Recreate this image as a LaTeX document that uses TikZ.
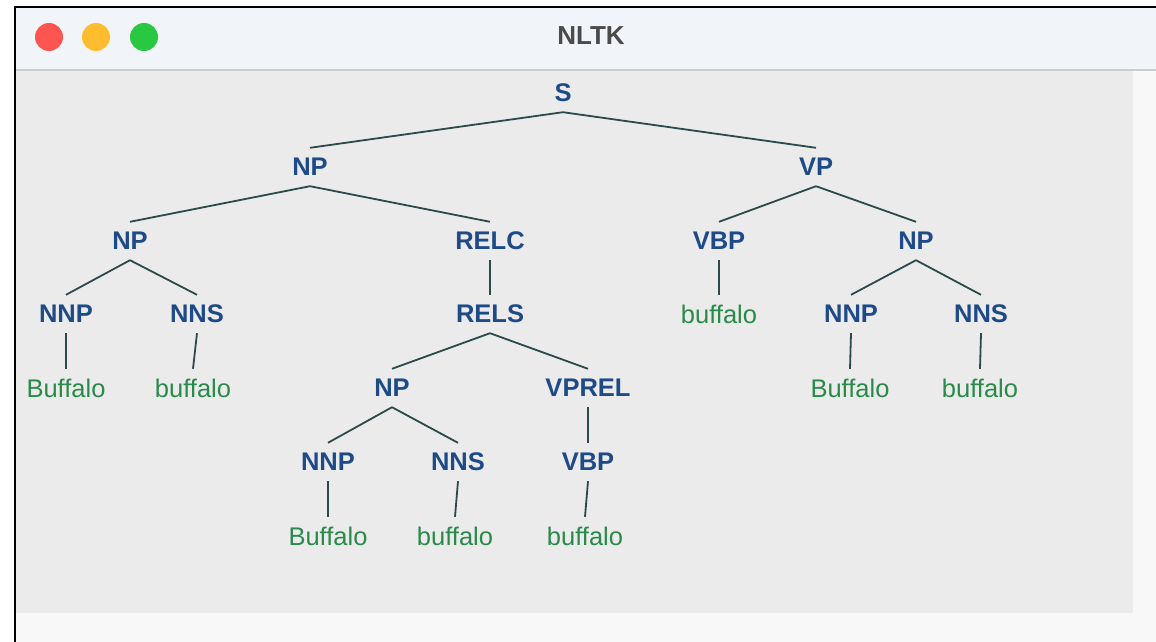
\documentclass[tikz,border=0pt]{standalone}
\usepackage{fontspec}
\setmainfont{Liberation Sans}
\definecolor{catblue}{HTML}{1E4A88}
\definecolor{wordgreen}{HTML}{2A8A4A}
\definecolor{edgecol}{HTML}{2C4A4A}
\definecolor{titlebg}{HTML}{F1F4F8}
\definecolor{contentbg}{HTML}{EBEBEB}
\definecolor{stripbg}{HTML}{F8F8F8}
\definecolor{sepgray}{HTML}{CDCDCD}
\definecolor{lred}{HTML}{FF5550}
\definecolor{lyellow}{HTML}{FEBC2E}
\definecolor{lgreen}{HTML}{28C840}
\definecolor{titlegray}{HTML}{4B4B4B}
\begin{document}
\begin{tikzpicture}[x=1pt,y=-1pt,
  cat/.style={font=\fontsize{25.5}{27}\selectfont\bfseries, text=catblue, inner sep=0pt, minimum height=38pt, anchor=center},
  word/.style={font=\fontsize{25.5}{27}\selectfont, text=wordgreen, inner sep=0pt, minimum height=38pt, anchor=center},
  edge/.style={draw=edgecol, line width=1.8pt},
  light/.style={circle, minimum size=28pt, inner sep=0pt}]
\useasboundingbox (0,0) rectangle (1156,642);
\fill[white] (0,0) rectangle (1156,642);
% window
\fill[titlebg] (15,7) rectangle (1156,70);
\fill[stripbg] (15,70) rectangle (1156,642);
\fill[contentbg] (15,71) rectangle (1133,613);
\draw[sepgray, line width=2pt] (15,70) -- (1156,70);
\draw[black, line width=2pt] (15,7) -- (1156,7);
\draw[black, line width=2pt] (15,6) -- (15,642);
% traffic lights
\node[light, fill=lred] (red) at (49,37) {};
\node[light, fill=lyellow] (yellow) at (96,37) {};
\node[light, fill=lgreen] (green) at (144,37) {};
\node[font=\fontsize{26}{28}\selectfont\bfseries, text=titlegray] (title) at (591,36) {NLTK};
% tree
\node[cat] (S) at (563,93) {S};
\node[cat] (NP1) at (310,167) {NP};
\node[cat] (VP) at (816,167) {VP};
\node[cat] (NP2) at (130,241) {NP};
\node[cat] (RELC) at (490,241) {RELC};
\node[cat] (VBP1) at (719,241) {VBP};
\node[cat] (NP3) at (916,241) {NP};
\node[cat] (NNP1) at (66,314) {NNP};
\node[cat] (NNS1) at (197,314) {NNS};
\node[cat] (RELS) at (490,314) {RELS};
\node[word] (w5) at (719,314) {buffalo};
\node[cat] (NNP3) at (851,314) {NNP};
\node[cat] (NNS3) at (981,314) {NNS};
\node[word] (w1) at (66,388) {Buffalo};
\node[word] (w2) at (193,388) {buffalo};
\node[cat] (NP4) at (392,388) {NP};
\node[cat] (VPREL) at (588,388) {VPREL};
\node[word] (w6) at (850,388) {Buffalo};
\node[word] (w7) at (980,388) {buffalo};
\node[cat] (NNP2) at (328,462) {NNP};
\node[cat] (NNS2) at (458,462) {NNS};
\node[cat] (VBP2) at (588,462) {VBP};
\node[word] (w3) at (328,536) {Buffalo};
\node[word] (w4) at (455,536) {buffalo};
\node[word] (w8) at (585,536) {buffalo};
% edges
\foreach \p/\c in {S/NP1,S/VP,NP1/NP2,NP1/RELC,VP/VBP1,VP/NP3,NP2/NNP1,NP2/NNS1,RELC/RELS,VBP1/w5,NP3/NNP3,NP3/NNS3,NNP1/w1,NNS1/w2,RELS/NP4,RELS/VPREL,NNP3/w6,NNS3/w7,NP4/NNP2,NP4/NNS2,VPREL/VBP2,NNP2/w3,NNS2/w4,VBP2/w8}
  \draw[edge] (\p.south) -- (\c.north);
\end{tikzpicture}
\end{document}
